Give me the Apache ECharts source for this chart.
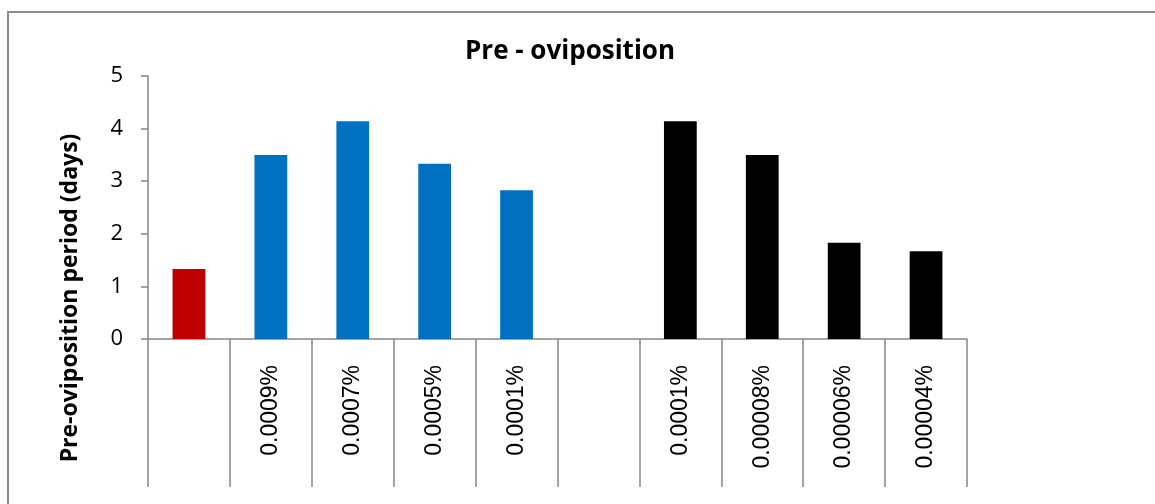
<!DOCTYPE html>
<html>
<head>
<meta charset="utf-8">
<script src="https://cdn.jsdelivr.net/npm/echarts@6/dist/echarts.min.js"></script>
<style>
  html, body { margin: 0; padding: 0; background: #fff; }
  #chart { width: 1155px; height: 504px; }
</style>
</head>
<body>
<div id="chart"></div>
<script>
// Concentration groups: control, first compound (blue), second compound (black)
const categories = ['', '0.0009%', '0.0007%', '0.0005%', '0.0001%', '', '0.0001%', '0.00008%', '0.00006%', '0.00004%'];
const periodDays = [1.33, 3.5, 4.14, 3.33, 2.83, null, 4.14, 3.5, 1.83, 1.67];
const groupOf = ['control', 'a', 'a', 'a', 'a', null, 'b', 'b', 'b', 'b'];
const groupColors = { control: '#C00000', a: '#0070C0', b: '#000000' };
const yTicks = [0, 1, 2, 3, 4, 5];

const chart = echarts.init(document.getElementById('chart'), null, { renderer: 'canvas' });

const axisGray = '#868686';

chart.setOption({
  animation: false,
  grid: { left: 148, right: 188, top: 76, bottom: 165, containLabel: false },
  xAxis: {
    type: 'category',
    data: categories,
    axisLine: { lineStyle: { color: axisGray, width: 1.5 } },
    axisTick: { show: true, length: 148, alignWithLabel: false, lineStyle: { color: axisGray, width: 1.5 } },
    axisLabel: {
      interval: 0,
      rotate: 90,
      margin: 26,
      color: '#000',
      fontFamily: 'Liberation Sans',
      fontSize: 23
    },
    splitLine: { show: false }
  },
  yAxis: {
    type: 'value',
    min: yTicks[0],
    max: yTicks[yTicks.length - 1],
    interval: 1,
    axisLine: { show: true, lineStyle: { color: axisGray, width: 1.5 } },
    axisTick: { show: true, length: 7, lineStyle: { color: axisGray, width: 1.5 } },
    axisLabel: {
      margin: 25,
      color: '#000',
      fontFamily: 'Open Sans',
      fontSize: 22
    },
    splitLine: { show: false }
  },
  series: [{
    type: 'bar',
    barWidth: '40%',
    data: periodDays.map((v, i) => ({
      value: v,
      itemStyle: { color: groupOf[i] ? groupColors[groupOf[i]] : 'transparent' }
    }))
  }],
  graphic: [
    {
      type: 'rect',
      silent: true,
      shape: { x: 8, y: 12, width: 1300, height: 700 },
      style: { fill: 'none', stroke: '#8c8c8c', lineWidth: 2 }
    },
    {
      type: 'text',
      x: 570, y: 52,
      style: {
        text: 'Pre - oviposition',
        fill: '#000',
        font: 'bold 26px "Open Sans"',
        textAlign: 'center',
        textVerticalAlign: 'middle'
      }
    },
    {
      type: 'text',
      x: 70, y: 298,
      rotation: Math.PI / 2,
      style: {
        text: 'Pre-oviposition period (days)',
        fill: '#000',
        font: 'bold 23px "Open Sans"',
        textAlign: 'center',
        textVerticalAlign: 'middle'
      }
    }
  ]
});
</script>
</body>
</html>
